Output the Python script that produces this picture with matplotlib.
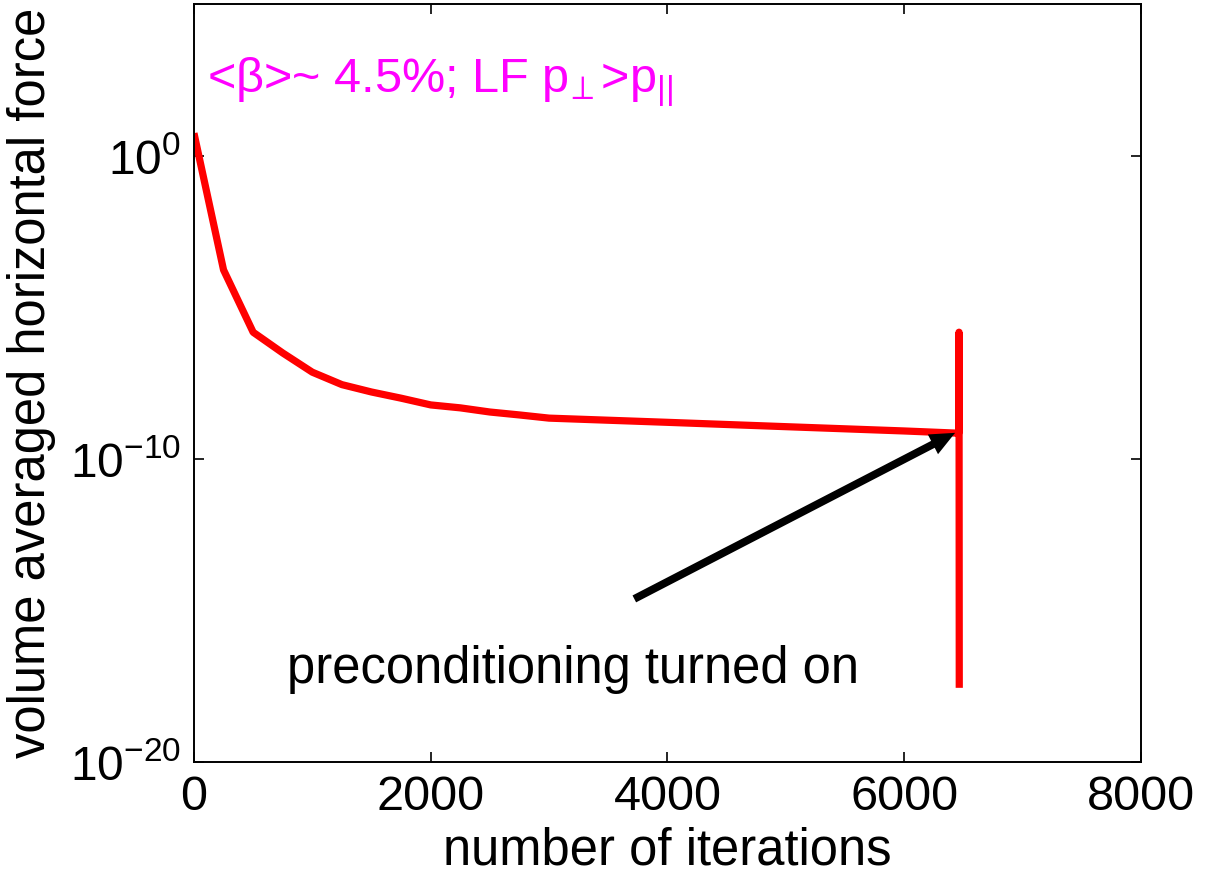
import matplotlib
matplotlib.use("Agg")
import matplotlib.pyplot as plt

plt.rcParams["font.family"] = ["Liberation Sans", "DejaVu Sans"]
plt.rcParams["mathtext.fontset"] = "custom"
plt.rcParams["mathtext.rm"] = "Liberation Sans"
plt.rcParams["mathtext.it"] = "Liberation Sans:italic"
plt.rcParams["mathtext.default"] = "regular"

# ---- data (log y axis) ----
iterations = [0, 250, 500, 750, 1000, 1250, 1500, 1750, 2000, 2250, 2500,
              2750, 3000, 4000, 5000, 6000, 6460, 6463, 6465]
force = [5.5e0, 1.7e-4, 1.5e-6, 3.1e-7, 7.2e-8, 2.8e-8, 1.6e-8, 1.0e-8,
         6.0e-9, 4.8e-9, 3.5e-9, 2.8e-9, 2.2e-9, 1.6e-9, 1.15e-9, 8.3e-10,
         7.0e-10, 1.5e-6, 2.8e-18]

x_ticks = [0, 2000, 4000, 6000, 8000]
y_ticks = [1e-20, 1e-10, 1e0]

arrow_tail = (3720, 2.4e-15)
arrow_head = (6430, 7.2e-10)

fig = plt.figure(figsize=(12.16, 8.76), dpi=100)
ax = fig.add_axes([0.1595, 0.1301, 0.7788, 0.8653])

ax.plot(iterations, force, color="#ff0000", lw=5.2,
        solid_joinstyle="round", solid_capstyle="butt")

ax.set_yscale("log")
ax.set_xlim(0, 8000)
ax.set_ylim(1e-20, 1e5)
ax.set_xticks(x_ticks)
ax.set_yticks(y_ticks)
ax.yaxis.set_minor_locator(matplotlib.ticker.NullLocator())
ax.tick_params(axis="both", which="major", direction="in", length=7, width=1.2,
               top=True, right=True)
ax.tick_params(axis="x", pad=9, labelsize=35)
ax.tick_params(axis="y", pad=9, labelsize=34.5)
for sp in ax.spines.values():
    sp.set_linewidth(1.4)

ax.set_xlabel("number of iterations", fontsize=36.5, labelpad=5)
ax.set_ylabel("volume averaged horizontal force", fontsize=36.5, labelpad=10)

# annotations
ax.text(0.0137, 0.884, r"<β>~ 4.5%; LF p$_{\!\perp}$>p$_{||}$",
        transform=ax.transAxes, color="#ff00ff", fontsize=35, va="baseline")
ax.text(0.098, 0.104, "preconditioning turned on", transform=ax.transAxes,
        fontsize=36.5, va="baseline")
ax.annotate("", xy=arrow_head, xytext=arrow_tail,
            arrowprops=dict(arrowstyle="simple,head_length=0.9,head_width=0.8,tail_width=0.28",
                            mutation_scale=20, color="k", lw=0,
                            shrinkA=0, shrinkB=0))

fig.savefig("out.png", dpi=100)
